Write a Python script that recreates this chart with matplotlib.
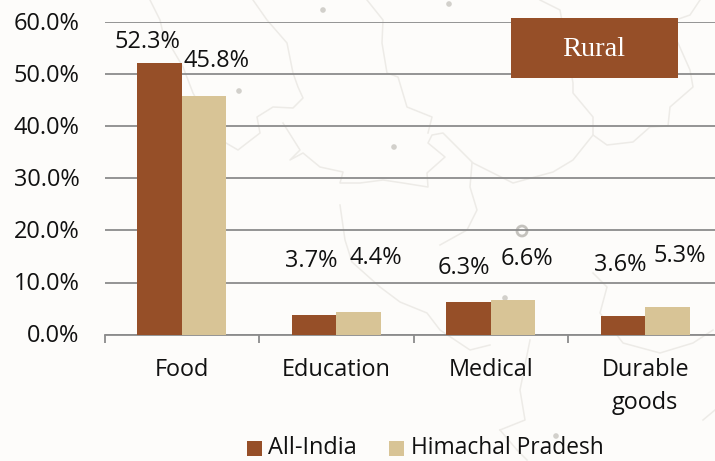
import matplotlib
matplotlib.use("Agg")
import matplotlib.pyplot as plt
from matplotlib.patches import Rectangle, Circle
from matplotlib.transforms import ScaledTranslation
import numpy as np

categories = ["Food", "Education", "Medical", "Durable\ngoods"]
all_india = [52.3, 3.7, 6.3, 3.6]
himachal = [45.8, 4.4, 6.6, 5.3]
series_names = ["All-India", "Himachal Pradesh"]
y_ticks = [0, 10, 20, 30, 40, 50, 60]

W, H = 715, 461
BROWN, TAN = "#964F28", "#D8C496"
GRID = "#8C8C8C"
TEXT = "#111111"
FONT = "Open Sans"
FS = 16.9

plt.rcParams["font.family"] = [FONT, "DejaVu Sans"]
fig = plt.figure(figsize=(W / 100, H / 100), dpi=100, facecolor="#FDFCFA")

# faint decorative map behind the chart (figure pixel coordinates)
bg = fig.add_axes([0, 0, 1, 1], zorder=0)
bg.set_xlim(0, W)
bg.set_ylim(H, 0)
bg.axis("off")
map_paths = [
    [(150,0),(160,20),(163,33),(183,67),(193,93),(205,115)],
    [(253,0),(267,20),(287,43),(293,73),(298,87),(303,98),(293,108),(273,107),(257,117),(260,133),(247,143),(238,150),(226,143)],
    [(283,123),(300,150),(290,160),(303,153),(320,167),(343,172),(340,183),(360,183),(383,180),(403,183),(428,187),(427,173),(445,157),(428,143),(432,135),(443,133),(473,163),(513,183),(553,172),(573,160),(593,135),(607,145),(633,142),(650,127),(668,126),(670,107),(693,87),(690,70),(678,43)],
    [(540,0),(560,10),(573,83),(573,93),(593,117),(593,135)],
    [(367,0),(383,20),(382,43),(387,73),(398,77),(407,107),(432,117),(428,133)],
    [(472,163),(470,187),(477,210),(467,230),(440,245)],
    [(700,0),(690,15),(670,22)],
    [(340,205),(345,240),(352,262),(380,287),(400,302),(427,313),(440,330),(470,350),(490,345)],
    [(593,273),(607,287),(600,313),(623,343),(660,353),(693,343),(713,330)],
    [(703,420),(715,410)],
    [(500,430),(517,450),(527,460)],
    [(530,340),(520,390),(525,420),(500,430)],
]
for p in map_paths:
    xs, ys = zip(*p)
    bg.plot(xs, ys, color="#EDEBE7", lw=1.1, solid_joinstyle="round")
for x, y in [(323,10),(239,91),(394,147),(449,4),(505,298),(556,436)]:
    bg.add_patch(Circle((x, y), 2.8, color="#D2D0CB", lw=0))
bg.add_patch(Circle((522, 231), 5, fc="none", ec="#C4C2BD", lw=2))

# axes: extends to the right edge of the picture (slot width 154.5 px)
x0, y0, y60 = 104.5, 334.5, 22.5
ax = fig.add_axes([x0 / W, 1 - y0 / H, (W - x0) / W, (y0 - y60) / H], zorder=1)
ax.patch.set_alpha(0)
ax.set_xlim(-0.5, (W - x0) / 154.5 - 0.5)
ax.set_ylim(0, 60)

x = np.arange(len(categories))
bw = 44.5 / 154.5
b1 = ax.bar(x - bw / 2, all_india, bw, color=BROWN, zorder=3, label=series_names[0])
b2 = ax.bar(x + bw / 2, himachal, bw, color=TAN, zorder=3, label=series_names[1])

ax.set_axisbelow(True)
ax.set_yticks(y_ticks)
ax.set_yticklabels([f"{v:.1f}%" for v in y_ticks], fontsize=FS, color=TEXT)
ax.tick_params(axis="y", length=0, pad=18)
nudge = ScaledTranslation(0, 1.5 / 100, fig.dpi_scale_trans)
for lab in ax.get_yticklabels():
    lab.set_transform(lab.get_transform() + nudge)
ax.grid(axis="y", color=GRID, lw=1.3, zorder=1)
for s in ("top", "right", "left"):
    ax.spines[s].set_visible(False)
ax.spines["bottom"].set_color(GRID)
ax.spines["bottom"].set_linewidth(1.3)
ax.set_xticks(np.arange(len(categories)) - 0.5)
ax.set_xticklabels([])
ax.tick_params(axis="x", which="major", length=6, width=1.3, color=GRID)
ax.set_xticks(x, minor=True)
ax.set_xticklabels(categories, minor=True, fontsize=FS, color=TEXT, linespacing=1.5)
ax.tick_params(axis="x", which="minor", length=0, pad=17)

# data labels: hand-placed offsets in pixels from each bar's top-centre
off1 = [(-12.5, 20.5), (-2.5, 54), (-5, 33.5), (-2.5, 51)]
off2 = [(12.5, 35), (17, 53.5), (13.7, 41), (12, 51)]
for bars, vals, offs in ((b1, all_india, off1), (b2, himachal, off2)):
    for r, v, (dx, dy) in zip(bars, vals, offs):
        ax.annotate(f"{v:.1f}%", (r.get_x() + r.get_width() / 2, v),
                    xytext=(dx * 0.72, dy * 0.72), textcoords="offset points",
                    ha="center", va="center", fontsize=FS, color=TEXT, zorder=5)

# "Rural" tag
ov = fig.add_axes([0, 0, 1, 1], zorder=2)
ov.set_xlim(0, W)
ov.set_ylim(H, 0)
ov.axis("off")
ov.add_patch(Rectangle((511, 18), 167, 60, fc=BROWN, ec="none"))
ov.text(594, 49, "Rural", color="#FFFFFF", fontsize=20.5, family="Liberation Serif",
        ha="center", va="center")

# legend
ov.add_patch(Rectangle((247, 441), 15, 15, fc=BROWN, ec="none"))
ov.add_patch(Rectangle((389, 441), 15, 15, fc=TAN, ec="none"))
ov.text(268, 448, series_names[0], fontsize=FS, color=TEXT, va="center", ha="left")
ov.text(411, 448, series_names[1], fontsize=16.4, color=TEXT, va="center", ha="left")

fig.savefig("out.png", dpi=100, facecolor=fig.get_facecolor())
